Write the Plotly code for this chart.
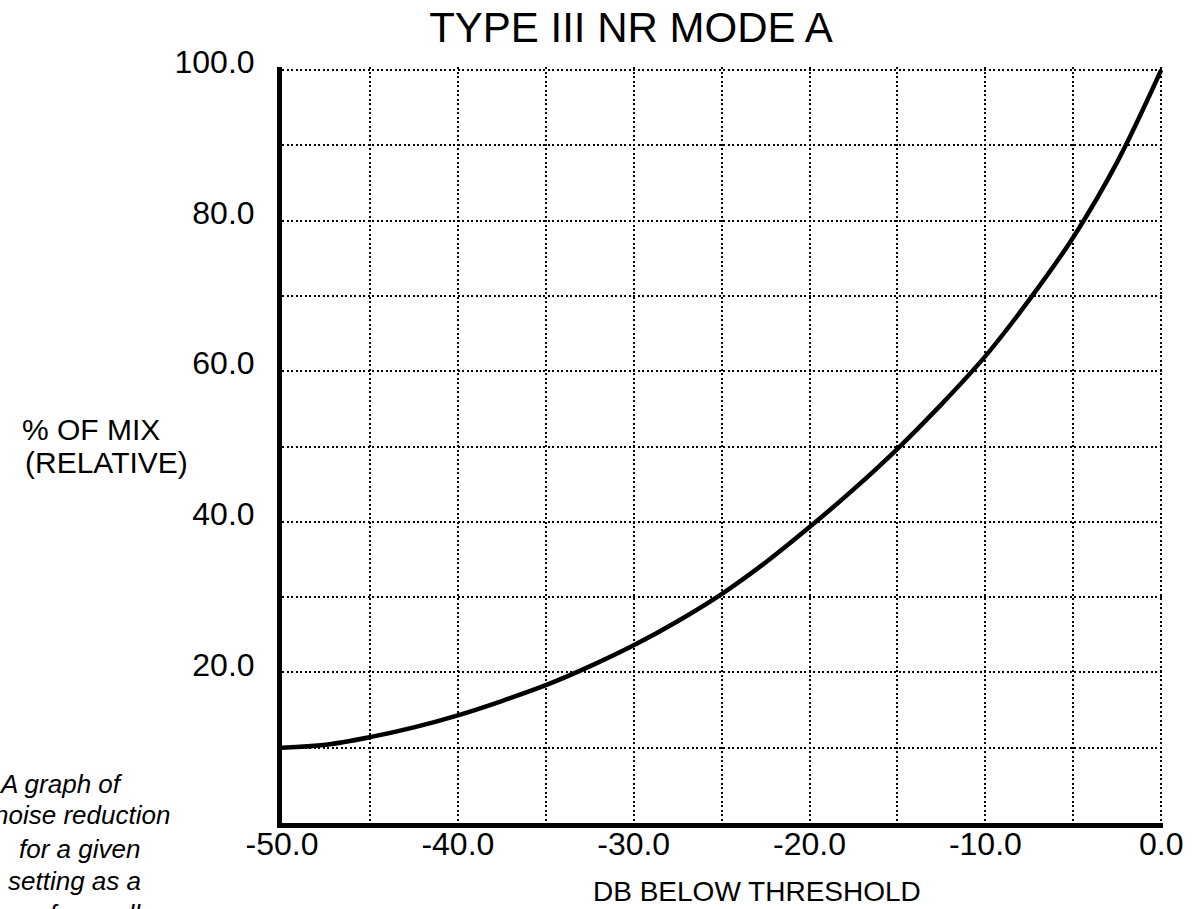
import plotly.graph_objects as go

# ---- data ----
title_text = "TYPE III NR MODE A"
x_title_text = "DB BELOW THRESHOLD"
y_title_lines = ["% OF MIX", "(RELATIVE)"]

db_below = [-50.0, -47.5, -45.0, -42.5, -40.0, -37.5, -35.0, -32.5, -30.0, -27.5,
            -25.0, -22.5, -20.0, -17.5, -15.0, -12.5, -10.0, -7.5, -5.0, -2.5, 0.0]
mix_pct = [10.0, 10.4, 11.4, 12.7, 14.3, 16.2, 18.3, 20.8, 23.6, 26.8,
           30.4, 34.6, 39.3, 44.3, 49.7, 55.6, 62.0, 69.5, 77.8, 87.8, 100.0]

x_grid_vals = [-50, -45, -40, -35, -30, -25, -20, -15, -10, -5, 0]
x_tick_text = ["-50.0", "", "-40.0", "", "-30.0", "", "-20.0", "", "-10.0", "", "0.0"]
y_grid_vals = [0, 10, 20, 30, 40, 50, 60, 70, 80, 90, 100]
y_tick_text = ["", "", "20.0", "", "40.0", "", "60.0", "", "80.0", "", "100.0"]

caption_lines = ["A graph of", "noise reduction", "for a given", "setting as a", "age of overall"]

# ---- layout geometry (pixels) ----
W, H = 1195, 909
L, R, T, B = 282, 32, 67, 86
PW, PH = W - L - R, H - T - B
FONT = "Liberation Sans, Arial, Helvetica, sans-serif"


def px(xs):
    return (xs - L) / PW


def py(ys):
    return (H - B - ys) / PH


fig = go.Figure()
fig.add_trace(go.Scatter(
    x=db_below, y=mix_pct, mode="lines",
    line=dict(color="black", width=4.5, shape="spline", smoothing=1.0),
    hoverinfo="skip", showlegend=False,
))

axis_common = dict(
    showgrid=True, gridcolor="black", gridwidth=2, griddash="2px,2.5px",
    showline=True, linecolor="black", linewidth=5,
    ticks="", zeroline=False,
    tickfont=dict(family=FONT, size=32, color="black"),
    tickmode="array",
)

fig.update_xaxes(range=[-50, 0.1], tickvals=x_grid_vals, ticktext=x_tick_text, **axis_common)
fig.update_yaxes(range=[0, 100.4], tickvals=y_grid_vals, ticktext=y_tick_text,
                 ticklabelstandoff=16, **axis_common)
try:
    fig.update_yaxes(ticklabelshift=-8)
except ValueError:
    pass
try:
    fig.update_xaxes(ticklabelstandoff=-11)
except ValueError:
    fig.update_xaxes(ticklabelstandoff=0)

annotations = []
annotations.append(dict(text=x_title_text, x=px(757), y=py(891), xref="paper", yref="paper",
                        xanchor="center", yanchor="middle", showarrow=False,
                        font=dict(family=FONT, size=28, color="black")))
annotations.append(dict(text=y_title_lines[0], x=px(162), y=py(429), xref="paper", yref="paper",
                        xanchor="right", yanchor="middle", showarrow=False,
                        font=dict(family=FONT, size=30, color="black")))
annotations.append(dict(text=y_title_lines[1], x=px(190), y=py(462), xref="paper", yref="paper",
                        xanchor="right", yanchor="middle", showarrow=False,
                        font=dict(family=FONT, size=30, color="black")))

cap_right = [125, 172, 142, 143, 143]
cap_mid = [784, 815, 849, 881, 914]
for txt, xr, ym in zip(caption_lines, cap_right, cap_mid):
    annotations.append(dict(text=txt, x=px(xr), y=py(ym), xref="paper", yref="paper",
                            xanchor="right", yanchor="middle", showarrow=False,
                            font=dict(family=FONT, size=26, color="black", style="italic")))

fig.update_layout(
    width=W, height=H,
    margin=dict(l=L, r=R, t=T, b=B, pad=0),
    paper_bgcolor="white", plot_bgcolor="white",
    title=dict(text=title_text, x=631 / W, xref="container", xanchor="center",
               y=1 - 27 / H, yref="container", yanchor="middle",
               font=dict(family=FONT, size=42, color="black")),
    annotations=annotations,
    showlegend=False,
)

fig.write_html("out.html",
               config={"displayModeBar": False},
               post_script="document.body.style.margin='0px';document.body.style.padding='0px';")
